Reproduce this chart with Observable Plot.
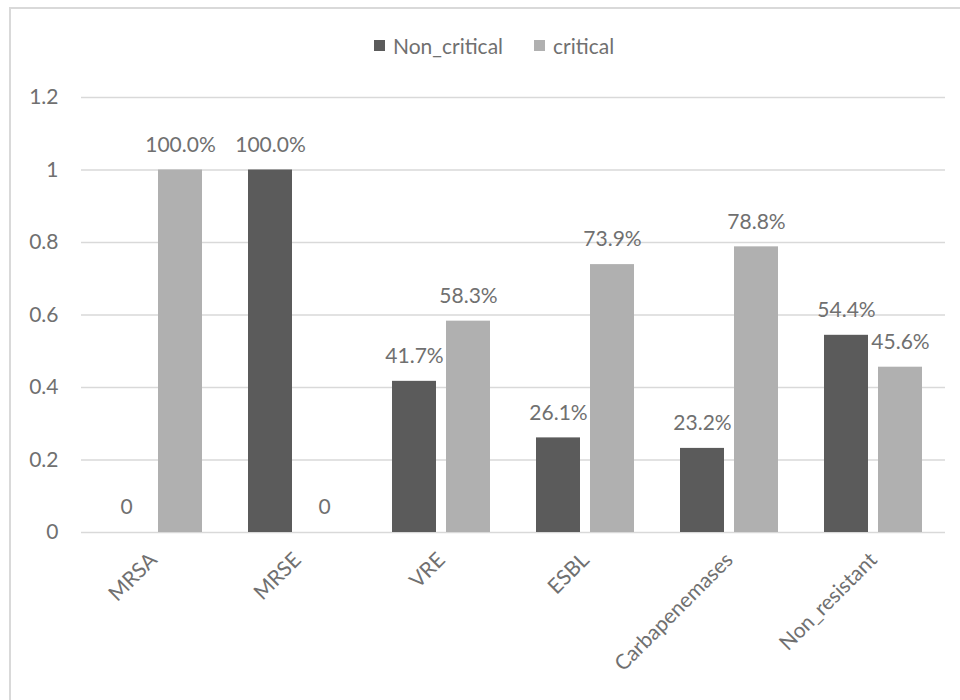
<!DOCTYPE html>
<html>
<head>
<meta charset="utf-8">
<script src="https://cdn.jsdelivr.net/npm/d3@7"></script>
<script src="https://cdn.jsdelivr.net/npm/@observablehq/plot@0.6"></script>
<style>
  html, body { margin: 0; padding: 0; background: #fff; overflow: hidden; }
  #wrap { position: relative; width: 960px; height: 700px; font-family: Lato, "Open Sans", sans-serif; }
  #frame { position: absolute; left: 9px; top: 7px; width: 1200px; height: 1200px; border-left: 2px solid #d9d9d9; border-top: 2px solid #d9d9d9; box-sizing: border-box; }
  #legend { position: absolute; top: 33px; left: 374px; display: flex; align-items: center; font-size: 21px; color: #707070; white-space: nowrap; }
  #legend .sw { display: inline-block; width: 11px; height: 11px; margin-right: 8px; }
  #legend .item { display: flex; align-items: center; margin-right: 31px; }
  #chart { position: absolute; left: 0; top: 0; }
</style>
</head>
<body>
<div id="wrap">
  <div id="frame"></div>
  <div id="chart"></div>
  <div id="legend"></div>
</div>
<script>
const categories = ["MRSA", "MRSE", "VRE", "ESBL", "Carbapenemases", "Non_resistant"];
const seriesNames = ["Non_critical", "critical"];
const nonCritical = [0, 1, 0.417, 0.261, 0.232, 0.544];
const critical = [1, 0, 0.583, 0.739, 0.788, 0.456];
const yTicks = [0, 0.2, 0.4, 0.6, 0.8, 1, 1.2];
const colors = ["#5b5b5b", "#b0b0b0"];

const data = [];
categories.forEach((c, i) => {
  data.push({cat: c, series: seriesNames[0], value: nonCritical[i]});
  data.push({cat: c, series: seriesNames[1], value: critical[i]});
});
const fmt = v => v === 0 ? "0" : (v * 100).toFixed(1) + "%";
const textColor = "#707070";

const chart = Plot.plot({
  width: 960,
  height: 700,
  marginLeft: 81,
  marginRight: 15,
  marginTop: 97,
  marginBottom: 168,
  style: {fontFamily: "Lato, 'Open Sans', sans-serif", fontSize: "21px", color: textColor, background: "transparent"},
  fx: {domain: categories, paddingInner: 0.3056, paddingOuter: 0.1528, label: null, axis: null},
  x: {domain: seriesNames, paddingInner: 0.1818, paddingOuter: 0, axis: null},
  y: {domain: [0, 1.2], label: null},
  color: {domain: seriesNames, range: colors},
  marks: [
    Plot.ruleY(yTicks, {stroke: "#d9d9d9", strokeWidth: 1.5, insetLeft: -22, insetRight: -22}),
    Plot.barY(data, {fx: "cat", x: "series", y: "value", fill: "series"}),
    Plot.text(data, {fx: "cat", x: "series", y: "value", text: d => fmt(d.value), dy: -25, fill: textColor, fontSize: 21}),
    Plot.axisY(yTicks, {tickSize: 0, tickPadding: 0, dx: -45, tickFormat: d => String(+d.toFixed(1)), fill: textColor, fontSize: 21, label: null}),
    Plot.axisFx({anchor: "bottom", tickRotate: -45, tickSize: 0, tickPadding: 14, dy: 10, fill: textColor, fontSize: 21, label: null})
  ]
});
document.getElementById("chart").appendChild(chart);

const legend = document.getElementById("legend");
seriesNames.forEach((s, i) => {
  const item = document.createElement("span");
  item.className = "item";
  const sw = document.createElement("span");
  sw.className = "sw";
  sw.style.background = colors[i];
  item.appendChild(sw);
  item.appendChild(document.createTextNode(s));
  legend.appendChild(item);
});
</script>
</body>
</html>
